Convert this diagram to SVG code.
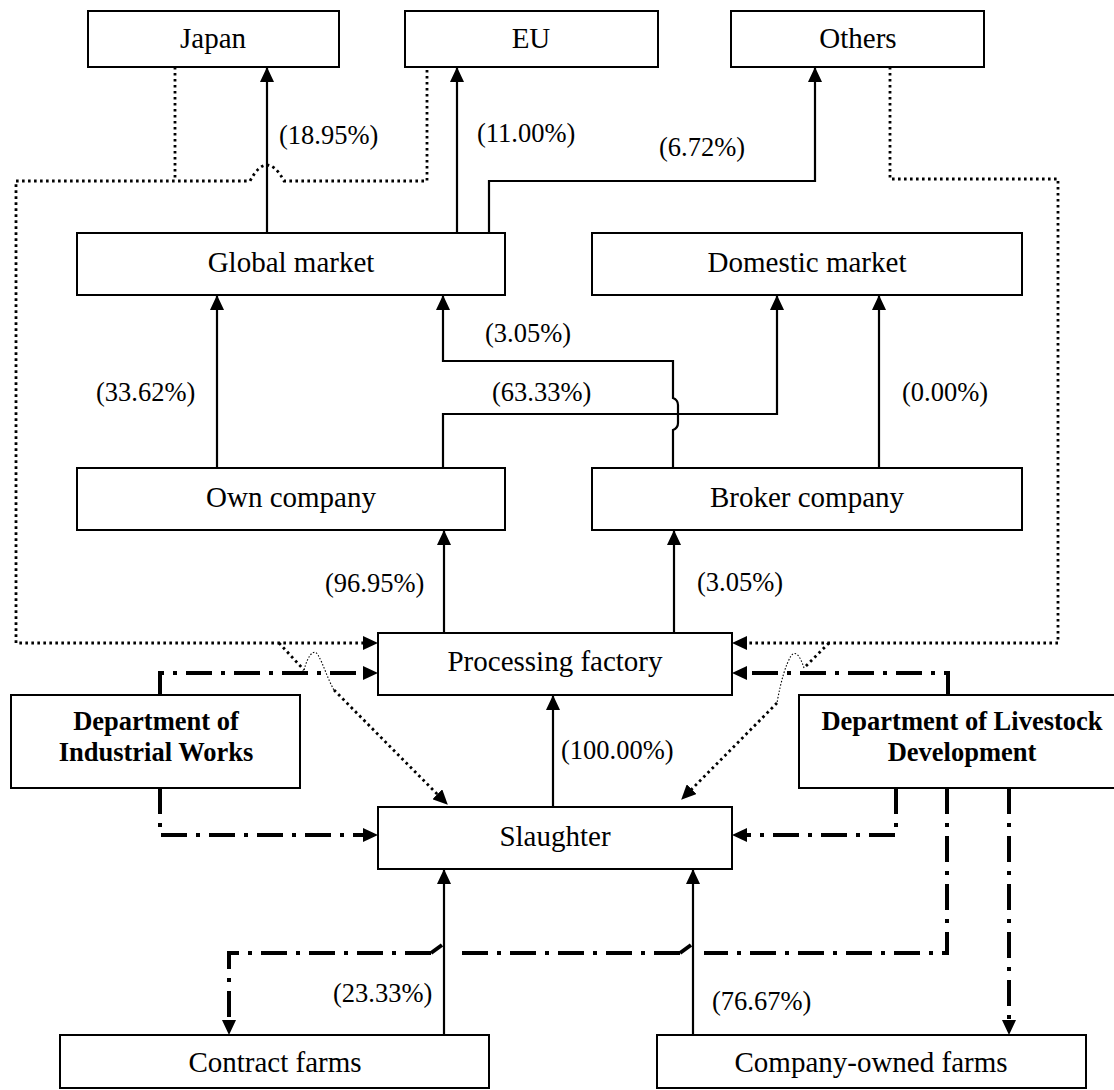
<svg xmlns="http://www.w3.org/2000/svg" width="1114" height="1090" viewBox="0 0 1114 1090">
<style>
.box{fill:#fff;stroke:#000;stroke-width:2}
.t{font-family:"Liberation Serif","Times New Roman",serif;font-size:29px;text-anchor:middle;fill:#000}
.b{font-weight:bold;font-size:26.5px}
.l{font-family:"Liberation Serif","Times New Roman",serif;font-size:26.5px;fill:#000}
.s{fill:none;stroke:#000;stroke-width:2.2}
.dot{fill:none;stroke:#000;stroke-width:2.8;stroke-dasharray:2.6 3.4}
.thin{fill:none;stroke:#000;stroke-width:1.1;stroke-dasharray:1.5 1.8}
.dd{fill:none;stroke:#000;stroke-width:4;stroke-dasharray:26 9 4 9}
.ramp{fill:none;stroke:#000;stroke-width:4}
</style>
<defs>
<marker id="ah" viewBox="0 0 15 14" refX="15" refY="7" markerWidth="15" markerHeight="14" markerUnits="userSpaceOnUse" orient="auto"><path d="M0,0 L15,7 L0,14 z" fill="#000"/></marker>
<marker id="ah2" viewBox="0 0 15 14" refX="11" refY="7" markerWidth="15" markerHeight="14" markerUnits="userSpaceOnUse" orient="auto"><path d="M0,0 L15,7 L0,14 z" fill="#000"/></marker>
</defs>

<g id="connectors">
<!-- solid flows -->
<path class="s" d="M267,233 V67" marker-end="url(#ah)"/>
<path class="s" d="M457,233 V67" marker-end="url(#ah)"/>
<path class="s" d="M489,233 V181 H815 V67" marker-end="url(#ah)"/>
<path class="s" d="M217,468 V295" marker-end="url(#ah)"/>
<path class="s" d="M673,468 V430 Q678,428 678,423 V405 Q678,400 673,398 V361 H443 V295" marker-end="url(#ah)"/>
<path class="s" d="M443,468 V414 H777 V295" marker-end="url(#ah)"/>
<path class="s" d="M879,468 V295" marker-end="url(#ah)"/>
<path class="s" d="M444,633 V530" marker-end="url(#ah)"/>
<path class="s" d="M674,633 V530" marker-end="url(#ah)"/>
<path class="s" d="M553,807 V695" marker-end="url(#ah)"/>
<path class="s" d="M444,1035 V869" marker-end="url(#ah)"/>
<path class="s" d="M693,1035 V869" marker-end="url(#ah)"/>
<!-- dotted (export markets) -->
<path class="dot" d="M175,67 V181"/>
<path class="dot" d="M427,64 V181 H284 Q267,149 250,181 H16 V643 H374" marker-end="url(#ah2)"/>
<path class="dot" d="M279,643 L304,670"/>
<path class="thin" d="M304,670 C308,655 314,648 318,655 C323,663 328,680 334,690"/>
<path class="dot" d="M334,690 L445,802" marker-end="url(#ah2)"/>
<path class="dot" d="M890,67 V179 H1058 V643 H736" marker-end="url(#ah2)"/>
<path class="dot" d="M829,643 L804,668"/>
<path class="thin" d="M804,668 C800,655 795,650 791,656 C786,664 781,680 777,703"/>
<path class="dot" d="M777,703 L684,797" marker-end="url(#ah2)"/>
<!-- dash-dot (departments) -->
<path class="dd" d="M160,695 V673 H374" marker-end="url(#ah2)"/>
<path class="dd" d="M160,788 V835 H374" marker-end="url(#ah2)"/>
<path class="dd" d="M948,695 V673 H736" marker-end="url(#ah2)"/>
<path class="dd" d="M896,788 V835 H736" marker-end="url(#ah2)"/>
<path class="dd" d="M947,788 V953 H704"/>
<path class="ramp" d="M680,953 L691,945"/>
<path class="dd" d="M680,953 H455"/>
<path class="ramp" d="M431,953 L442,945"/>
<path class="dd" d="M431,953 H229 V1031" marker-end="url(#ah2)"/>
<path class="dd" d="M1009,788 V1031" marker-end="url(#ah2)"/>
</g>

<g id="labels">
<text class="l" x="279" y="144">(18.95%)</text>
<text class="l" x="477" y="142">(11.00%)</text>
<text class="l" x="659" y="156">(6.72%)</text>
<text class="l" x="485" y="342">(3.05%)</text>
<text class="l" x="96" y="401">(33.62%)</text>
<text class="l" x="492" y="401">(63.33%)</text>
<text class="l" x="902" y="401">(0.00%)</text>
<text class="l" x="325" y="592">(96.95%)</text>
<text class="l" x="697" y="591">(3.05%)</text>
<text class="l" x="561" y="759">(100.00%)</text>
<text class="l" x="333" y="1002">(23.33%)</text>
<text class="l" x="712" y="1010">(76.67%)</text>
</g>

<g id="japan"><rect class="box" x="88" y="11" width="251" height="56"/><text class="t" x="213" y="48">Japan</text></g>
<g id="eu"><rect class="box" x="405" y="11" width="253" height="56"/><text class="t" x="531" y="48">EU</text></g>
<g id="others"><rect class="box" x="731" y="11" width="253" height="56"/><text class="t" x="858" y="48">Others</text></g>
<g id="global-market"><rect class="box" x="77" y="233" width="428" height="62"/><text class="t" x="291" y="272">Global market</text></g>
<g id="domestic-market"><rect class="box" x="592" y="233" width="430" height="62"/><text class="t" x="807" y="272">Domestic market</text></g>
<g id="own-company"><rect class="box" x="77" y="468" width="428" height="62"/><text class="t" x="291" y="507">Own company</text></g>
<g id="broker-company"><rect class="box" x="592" y="468" width="430" height="62"/><text class="t" x="807" y="507">Broker company</text></g>
<g id="processing-factory"><rect class="box" x="378" y="633" width="354" height="62"/><text class="t" x="555" y="671">Processing factory</text></g>
<g id="slaughter"><rect class="box" x="378" y="807" width="354" height="62"/><text class="t" x="555" y="846">Slaughter</text></g>
<g id="dept-industrial-works"><rect class="box" x="11" y="695" width="289" height="93"/><text class="t b" x="156" y="730">Department of</text><text class="t b" x="156" y="761">Industrial Works</text></g>
<g id="dept-livestock-development"><rect class="box" x="799" y="695" width="326" height="93"/><text class="t b" x="962" y="730">Department of Livestock</text><text class="t b" x="962" y="761">Development</text></g>
<g id="contract-farms"><rect class="box" x="60" y="1035" width="429" height="53"/><text class="t" x="275" y="1072">Contract farms</text></g>
<g id="company-owned-farms"><rect class="box" x="657" y="1035" width="429" height="53"/><text class="t" x="871" y="1072">Company-owned farms</text></g>
</svg>
